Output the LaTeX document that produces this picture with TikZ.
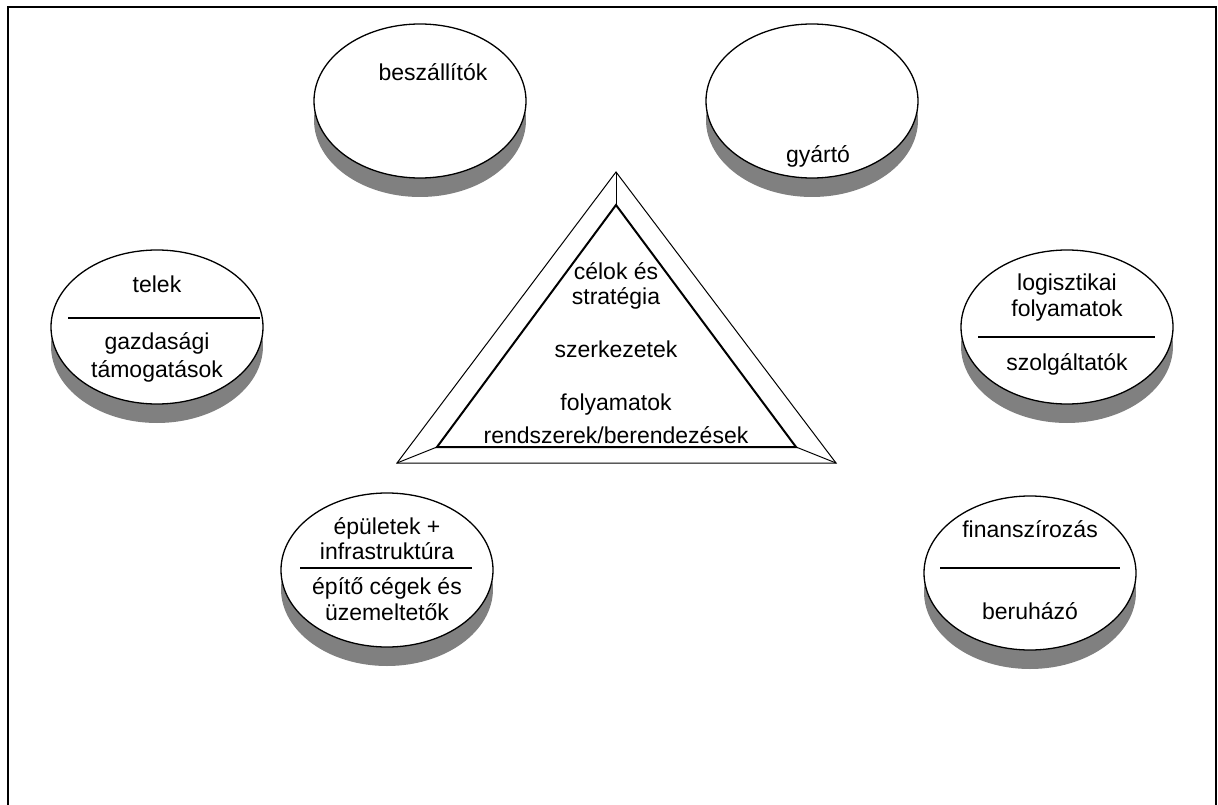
\documentclass[tikz,border=0pt]{standalone}
\usepackage{fontspec}
\setmainfont{Liberation Sans}
\usetikzlibrary{shapes.geometric,shadows}
\begin{document}
\begin{tikzpicture}[x=1pt,y=-1pt,
  disk/.style={ellipse, draw=black, line width=1.3pt, fill=white,
    minimum width=212pt, minimum height=154pt, inner sep=0pt,
    drop shadow={shadow xshift=0pt, shadow yshift=-19pt, fill=black!50, opacity=1}},
  lbl/.style={font=\fontsize{23}{27}\selectfont, inner sep=0pt, anchor=base},
  sepline/.style={line width=1.3pt},
  outertri/.style={line width=1pt, line join=miter},
  innertri/.style={line width=2pt, line join=miter}]
\useasboundingbox (0,0) rectangle (1218,805);
\clip (0,0) rectangle (1218,805);
% frame
\coordinate (f1) at (8,815);
\coordinate (f2) at (8,7);
\coordinate (f3) at (1216,7);
\coordinate (f4) at (1216,815);
\draw[line width=2pt] (f1) -- (f2) -- (f3) -- (f4);

% disks
\node[disk] (besz) at (420,101) {};
\node[disk] (gyarto) at (812,101) {};
\node[disk] (telek) at (157,327) {};
\node[disk] (logi) at (1067,327) {};
\node[disk] (epul) at (387,570) {};
\node[disk] (fin) at (1030,573) {};

% labels
\node[lbl] (tbesz) at (433,81) {beszállítók};
\node[lbl] (tgy) at (818,163) {gyártó};
\node[lbl] (ttel1) at (157,292) {telek};
\node[lbl] (ttel2) at (157,349) {gazdasági};
\node[lbl] (ttel3) at (157,377) {támogatások};
\coordinate (lt1) at (68,318);
\coordinate (lt2) at (260,318);
\draw[sepline] (lt1) -- (lt2);
\node[lbl] (tlog1) at (1067,290) {logisztikai};
\node[lbl] (tlog2) at (1067,316) {folyamatok};
\node[lbl] (tlog3) at (1067,370) {szolgáltatók};
\coordinate (ll1) at (978,337);
\coordinate (ll2) at (1155,337);
\draw[sepline] (ll1) -- (ll2);
\node[lbl] (tep1) at (387,534) {épületek +};
\node[lbl] (tep2) at (387,559) {infrastruktúra};
\node[lbl] (tep3) at (387,594) {építő cégek és};
\node[lbl] (tep4) at (387,620) {üzemeltetők};
\coordinate (le1) at (300,568);
\coordinate (le2) at (472,568);
\draw[sepline] (le1) -- (le2);
\node[lbl] (tfin1) at (1030,537) {finanszírozás};
\node[lbl] (tfin2) at (1030,619) {beruházó};
\coordinate (lf1) at (940,568);
\coordinate (lf2) at (1120,568);
\draw[sepline] (lf1) -- (lf2);

% triangle
\coordinate (oA) at (616,172);
\coordinate (oL) at (397,463);
\coordinate (oR) at (836,463);
\coordinate (iA) at (616,205);
\coordinate (iL) at (437,447);
\coordinate (iR) at (796,447);
\draw[outertri] (oA) -- (oL) -- (oR) -- cycle;
\draw[innertri] (iA) -- (iL) -- (iR) -- cycle;
\draw[line width=1pt] (oA) -- (iA);
\draw[line width=1pt] (oL) -- (iL);
\draw[line width=1pt] (oR) -- (iR);

\node[lbl] (tc1) at (616,279) {célok és};
\node[lbl] (tc2) at (616,304) {stratégia};
\node[lbl] (ts) at (616,357) {szerkezetek};
\node[lbl] (tf) at (616,410) {folyamatok};
\node[lbl] (tr) at (616,443) {rendszerek/berendezések};
\end{tikzpicture}
\end{document}
